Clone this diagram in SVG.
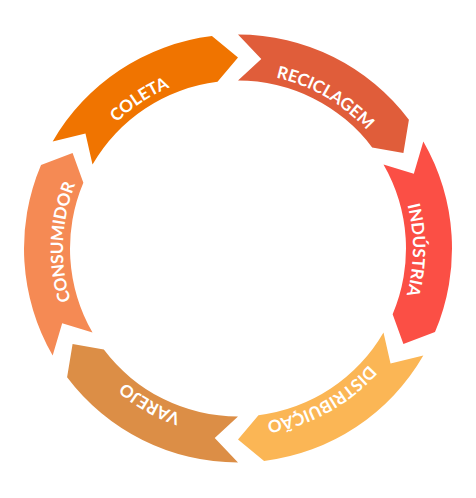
<svg xmlns="http://www.w3.org/2000/svg" xmlns:xlink="http://www.w3.org/1999/xlink" width="476" height="498" viewBox="0 0 476 498">
<style>
.lbl{font-family:Lato,"Open Sans","Liberation Sans",sans-serif;font-weight:700;font-size:17px;fill:#ffffff;text-anchor:middle}
</style>
<defs>
<path id="ring" d="M238,73.5 A175,175 0 1 1 238,423.5 A175,175 0 1 1 238,73.5"/>
</defs>
<rect width="476" height="498" fill="#ffffff"/>
<g id="coleta">
<path fill="#F07400" d="M52.67,141.5 A214,214 0 0 1 211.92,36.09 L238,57.5 L217.53,81.75 A168,168 0 0 0 92.51,164.5 L85.46,133.55 Z"/>
<text class="lbl"><textPath href="#ring" xlink:href="#ring" startOffset="997">COLETA</textPath></text>
</g>
<g id="reciclagem">
<path fill="#E05D3A" d="M238,34.5 A214,214 0 0 1 408.91,119.71 L403.41,153 L372.17,147.4 A168,168 0 0 0 238,80.5 L261.28,58.92 Z"/>
<text class="lbl"><textPath href="#ring" xlink:href="#ring" startOffset="91.6">RECICLAGEM</textPath></text>
</g>
<g id="industria">
<path fill="#FB4F45" d="M423.33,141.5 A214,214 0 0 1 434.99,332.12 L403.41,344 L392.64,314.14 A168,168 0 0 0 383.49,164.5 L413.82,173.87 Z"/>
<text class="lbl"><textPath href="#ring" xlink:href="#ring" startOffset="276.4">INDÚSTRIA</textPath></text>
</g>
<g id="distribuicao">
<path fill="#FBB655" d="M423.33,355.5 A214,214 0 0 1 264.08,460.91 L238,439.5 L258.47,415.25 A168,168 0 0 0 383.49,332.5 L390.54,363.45 Z"/>
<text class="lbl"><textPath href="#ring" xlink:href="#ring" startOffset="461.2">DISTRIBUIÇÃO</textPath></text>
</g>
<g id="varejo">
<path fill="#DC8E46" d="M238,462.5 A214,214 0 0 1 67.09,377.29 L72.59,344 L103.83,349.6 A168,168 0 0 0 238,416.5 L214.72,438.08 Z"/>
<text class="lbl"><textPath href="#ring" xlink:href="#ring" startOffset="639.9">VAREJO</textPath></text>
</g>
<g id="consumidor">
<path fill="#F58A54" d="M52.67,355.5 A214,214 0 0 1 41.01,164.88 L72.59,153 L83.36,182.86 A168,168 0 0 0 92.51,332.5 L62.18,323.13 Z"/>
<text class="lbl"><textPath href="#ring" xlink:href="#ring" startOffset="830.8">CONSUMIDOR</textPath></text>
</g>
<g id="connectors"></g>
</svg>
